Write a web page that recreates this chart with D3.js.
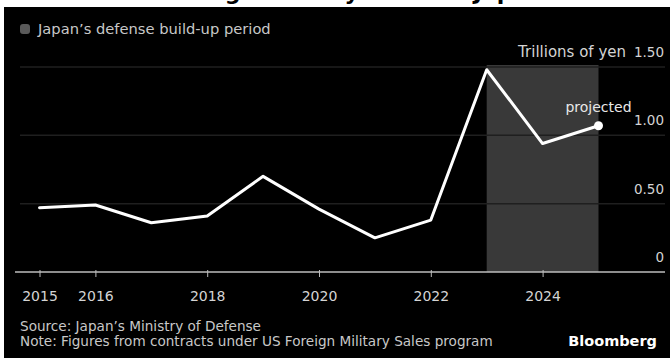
<!DOCTYPE html>
<html>
<head>
<meta charset="utf-8">
<script src="https://cdn.jsdelivr.net/npm/d3@7"></script>
<style>
  html, body { margin: 0; padding: 0; background: #fff; }
  svg { display: block; }
  text { font-family: "DejaVu Sans", sans-serif; }
</style>
</head>
<body>
<svg id="chart" width="670" height="358"></svg>
<script>
// Fiscal years and contract values (trillions of yen)
const years = [2015, 2016, 2017, 2018, 2019, 2020, 2021, 2022, 2023, 2024, 2025];
const values = [0.47, 0.49, 0.36, 0.41, 0.70, 0.46, 0.25, 0.38, 1.48, 0.94, 1.07];
const tickYears = [2015, 2016, 2018, 2020, 2022, 2024];
const yTicks = [0, 0.5, 1.0, 1.5];
const yTickLabels = ["0", "0.50", "1.00", "1.50"];
const buildUp = [2023, 2025];
const projectedYear = 2025;

const title = "US Foreign Military Sales to Japan";
const legendLabel = "Japan\u2019s defense build-up period";
const unitLabel = "Trillions of yen";
const sourceText = "Source: Japan\u2019s Ministry of Defense";
const noteText = "Note: Figures from contracts under US Foreign Military Sales program";

const svg = d3.select("#chart");
const W = 670, H = 358;

// headline sits above the panel, mostly cut off by the frame
svg.append("text").attr("x", 332).attr("y", 0).attr("text-anchor", "middle")
  .attr("font-family", "Liberation Sans, Arial, sans-serif").attr("font-weight", "bold")
  .attr("font-size", 22).attr("fill", "#000").text(title);

// dark panel
svg.append("rect").attr("x", 4).attr("y", 7).attr("width", W - 4).attr("height", H - 7).attr("fill", "#000");

const x = d3.scaleLinear().domain([2015, 2025]).range([39.5, 598.5]);
const y = d3.scaleLinear().domain([0, 1.5]).range([272, 67]);

// shaded build-up period
svg.append("rect")
  .attr("x", x(buildUp[0])).attr("width", x(buildUp[1]) - x(buildUp[0]))
  .attr("y", y(1.5) - 2).attr("height", y(0) - y(1.5) + 2)
  .attr("fill", "#393939");

// horizontal gridlines
svg.append("g").selectAll("line").data(yTicks.filter(d => d > 0)).join("line")
  .attr("x1", 20).attr("x2", 665)
  .attr("y1", d => y(d)).attr("y2", d => y(d))
  .attr("stroke", "#1f1f1f").attr("stroke-width", 1.5);

// y labels sit above their gridlines at the right edge
svg.append("g").selectAll("text").data(yTicks).join("text")
  .attr("x", 664).attr("y", d => y(d) - 10)
  .attr("text-anchor", "end").attr("font-size", 13.5).attr("fill", "#d4d4d4")
  .text((d, i) => yTickLabels[i]);
svg.append("text").attr("x", 626).attr("y", y(1.5) - 10)
  .attr("text-anchor", "end").attr("font-size", 15).attr("fill", "#d4d4d4")
  .text(unitLabel);

// x axis
const xAxis = d3.axisBottom(x).tickValues(tickYears).tickFormat(d3.format("d")).tickSize(5).tickPadding(14);
const gx = svg.append("g").attr("transform", `translate(0,${y(0)})`).call(xAxis);
gx.select(".domain").remove();
gx.selectAll(".tick line").attr("stroke", "#bbb").attr("y1", -2);
gx.selectAll(".tick text").attr("font-size", 14).attr("fill", "#d4d4d4")
  .attr("font-family", "DejaVu Sans, sans-serif");
svg.append("line").attr("x1", 15).attr("x2", 665).attr("y1", y(0)).attr("y2", y(0))
  .attr("stroke", "#bdbdbd").attr("stroke-width", 1.5);

// value line
const line = d3.line().x((d, i) => x(years[i])).y(d => y(d));
svg.append("path").datum(values).attr("d", line)
  .attr("fill", "none").attr("stroke", "#fff").attr("stroke-width", 3)
  .attr("stroke-linejoin", "round").attr("stroke-linecap", "round");

// projected marker
const pIdx = years.indexOf(projectedYear);
svg.append("circle").attr("cx", x(projectedYear)).attr("cy", y(values[pIdx])).attr("r", 4.5).attr("fill", "#fff");
svg.append("text").attr("x", x(projectedYear)).attr("y", y(values[pIdx]) - 14)
  .attr("text-anchor", "middle").attr("font-size", 14).attr("fill", "#e8e8e8").text("projected");

// legend
svg.append("rect").attr("x", 20).attr("y", 24).attr("width", 10).attr("height", 10).attr("rx", 3)
  .attr("fill", "#5a5a5a");
svg.append("text").attr("x", 38).attr("y", 34).attr("font-size", 14.7).attr("fill", "#c8c8c8").text(legendLabel);

// footer
svg.append("text").attr("x", 20).attr("y", 331).attr("font-size", 13.6).attr("fill", "#c8c8c8").text(sourceText);
svg.append("text").attr("x", 20).attr("y", 346).attr("font-size", 13.6).attr("fill", "#c8c8c8").text(noteText);
svg.append("text").attr("x", 657).attr("y", 346).attr("text-anchor", "end")
  .attr("font-family", "Liberation Sans, Arial, sans-serif").attr("font-weight", "bold")
  .attr("font-size", 14.5).attr("fill", "#fff").text("Bloomberg");
</script>
</body>
</html>
